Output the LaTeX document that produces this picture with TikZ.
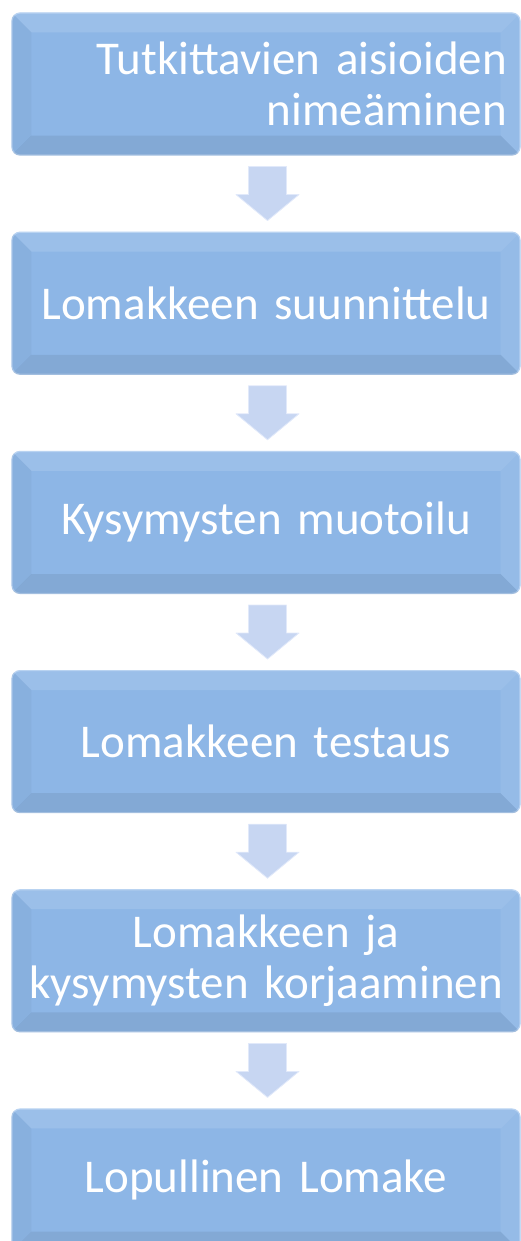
\documentclass[tikz,border=0pt]{standalone}
\usepackage{fontspec}
\setmainfont{Carlito}
\usetikzlibrary{positioning,calc}

\definecolor{boxblue}{RGB}{141,182,230}
\definecolor{boxedge}{RGB}{175,205,240}
\definecolor{arrowblue}{RGB}{199,214,242}
\definecolor{arrowedge}{RGB}{225,233,250}

\begin{document}
\begin{tikzpicture}[x=1pt, y=-1pt, line join=round, node distance=76pt]
\tikzset{
  stepbox/.style={rectangle, rounded corners=8pt, fill=boxblue, draw=boxedge, line width=1.2pt,
    text width=482pt, inner xsep=13pt, minimum height=142pt, align=center, text=white,
    font=\fontsize{47}{51}\selectfont},
  downarrow/.style={fill=arrowblue, draw=arrowedge, line width=0.8pt}
}
\useasboundingbox (0,0) rectangle (521,1241);
\clip (0,0) rectangle (521,1241);

\node[stepbox, align=right] (b1) at (266,84) {Tutkittavien aisioiden\\nimeäminen};
\node[stepbox, below=of b1] (b2) {Lomakkeen suunnittelu};
\node[stepbox, below=of b2] (b3) {Kysymysten muotoilu};
\node[stepbox, below=of b3] (b4) {Lomakkeen testaus};
\node[stepbox, below=of b4] (b5) {Lomakkeen ja\\kysymysten korjaaminen};
\node[stepbox, below=of b5] (b6) {Lopullinen Lomake};

% bevel on the boxes
\foreach \n in {b1,b2,b3,b4,b5,b6}{
  \begin{scope}
  \clip[rounded corners=8pt] (\n.south west) rectangle (\n.north east);
  \fill[white, opacity=.13] (\n.north west) -- (\n.north east) -- ++(-20,20) -- ($(\n.north west)+(20,20)$) -- cycle;
  \fill[white, opacity=.08] (\n.north east) -- (\n.south east) -- ++(-20,-20) -- ($(\n.north east)+(-20,20)$) -- cycle;
  \fill[black, opacity=.03] (\n.north west) -- (\n.south west) -- ++(20,-20) -- ($(\n.north west)+(20,20)$) -- cycle;
  \fill[black, opacity=.07] (\n.south west) -- (\n.south east) -- ++(-20,-20) -- ($(\n.south west)+(20,-20)$) -- cycle;
  \end{scope}
}

% arrows between the boxes
\foreach \a/\b in {b1/b2,b2/b3,b3/b4,b4/b5,b5/b6}{
  \draw[downarrow] ($(\a.south)!0.5!(\b.north)+(1.5,0)$) ++(-19,-27) -- ++(38,0) -- ++(0,28)
    -- ++(12.5,0) -- ++(-31.5,26) -- ++(-31.5,-26) -- ++(12.5,0) -- cycle;
}

\end{tikzpicture}
\end{document}
